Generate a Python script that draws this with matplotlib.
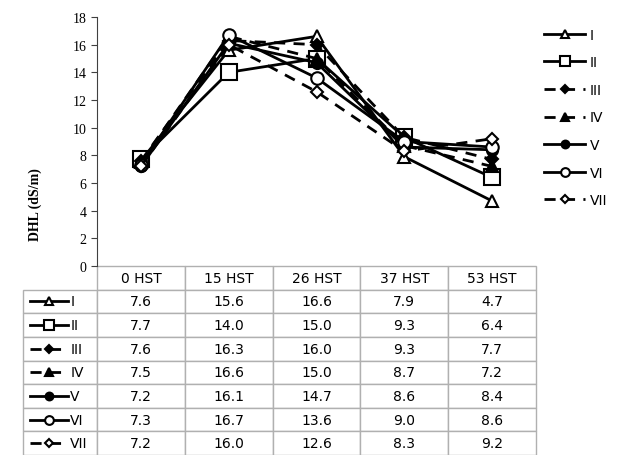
import matplotlib
matplotlib.use('Agg')
import matplotlib.pyplot as plt
from matplotlib.lines import Line2D

days = ['0 HST', '15 HST', '26 HST', '37 HST', '53 HST']
names = ['I', 'II', 'III', 'IV', 'V', 'VI', 'VII']

v_I = [7.6, 15.6, 16.6, 7.9, 4.7]
v_II = [7.7, 14.0, 15.0, 9.3, 6.4]
v_III = [7.6, 16.3, 16.0, 9.3, 7.7]
v_IV = [7.5, 16.6, 15.0, 8.7, 7.2]
v_V = [7.2, 16.1, 14.7, 8.6, 8.4]
v_VI = [7.3, 16.7, 13.6, 9.0, 8.6]
v_VII = [7.2, 16.0, 12.6, 8.3, 9.2]
series = [v_I, v_II, v_III, v_IV, v_V, v_VI, v_VII]

# marker, fill, linestyle, size
styles = [
    ('^', 'white', '-', 9),
    ('s', 'white', '-', 11),
    ('D', 'black', (0, (4, 3)), 6),
    ('^', 'black', (0, (4, 3)), 8),
    ('o', 'black', '-', 8),
    ('o', 'white', '-', 9),
    ('D', 'white', (0, (4, 3)), 6),
]

fig = plt.figure(figsize=(6.18, 4.56), dpi=100)
ax = fig.add_axes([97 / 618, 1 - 267 / 456, 439 / 618, 249 / 456])

x = list(range(len(days)))
for name, vals, (mk, fc, ls, ms) in zip(names, series, styles):
    ax.plot(x, vals, color='black', lw=2, linestyle=ls, marker=mk,
            markersize=ms, markerfacecolor=fc, markeredgecolor='black',
            markeredgewidth=1.5, label=name)

ax.set_xlim(-0.5, 4.5)
ax.set_ylim(0, 18)
ax.set_yticks(range(0, 19, 2))
ax.set_xticks([])
for s in ['top', 'right', 'bottom']:
    ax.spines[s].set_visible(False)
ax.spines['left'].set_color('#404040')
ax.tick_params(axis='y', length=4, color='#404040', labelsize=10)
for lab in ax.get_yticklabels():
    lab.set_family('Liberation Serif')
ax.set_ylabel('DHL (dS/m)', family='Liberation Serif', fontweight='bold',
              fontsize=10)
ax.yaxis.set_label_coords(-0.125, 0.25)

leg = ax.legend(loc='upper left', bbox_to_anchor=(1.005, 0.98), frameon=False,
                handlelength=3.0, labelspacing=0.98, fontsize=10,
                handletextpad=0.3, borderaxespad=0, markerscale=0.7)

# data table under the plot (sizes in axes fractions so bbox scale is 1)
tb_bottom = (267 - 456) / 249
tb_h = -tb_bottom
n_rows = len(names) + 1
row_h = tb_h / n_rows
lab_w = 74 / 439
cell_text = [[f'{v:.1f}' for v in vals] for vals in series]
tbl = ax.table(cellText=cell_text, colLabels=days,
               colWidths=[1 / len(days)] * len(days),
               cellLoc='center', bbox=[0, tb_bottom, 1, tb_h])
for r in range(1, n_rows):
    tbl.add_cell(r, -1, width=lab_w, height=row_h, text='')
tbl.auto_set_font_size(False)
for (r, c), cell in tbl.get_celld().items():
    cell.set_height(row_h)
    cell.set_edgecolor('#b0b0b0')
    cell.set_linewidth(1)
    cell.get_text().set_fontsize(10)
    cell.get_text().set_family('DejaVu Sans')

# legend keys and names inside row label cells
k0 = (30 - 97) / 439
k1 = (68 - 97) / 439
for i, (name, (mk, fc, ls, ms)) in enumerate(zip(names, styles)):
    yc = -row_h * (i + 1.5)
    ax.add_line(Line2D([k0, k1], [yc, yc], transform=ax.transAxes,
                       clip_on=False, color='black', lw=2, linestyle=ls))
    ax.add_line(Line2D([(k0 + k1) / 2], [yc], transform=ax.transAxes,
                       clip_on=False, marker=mk, markersize=ms * 0.7,
                       markerfacecolor=fc, markeredgecolor='black',
                       markeredgewidth=1.5))
    ax.text(k1 + 0.005, yc, name, transform=ax.transAxes, ha='left',
            va='center', fontsize=10, family='DejaVu Sans')

fig.savefig('out.png', dpi=100)
